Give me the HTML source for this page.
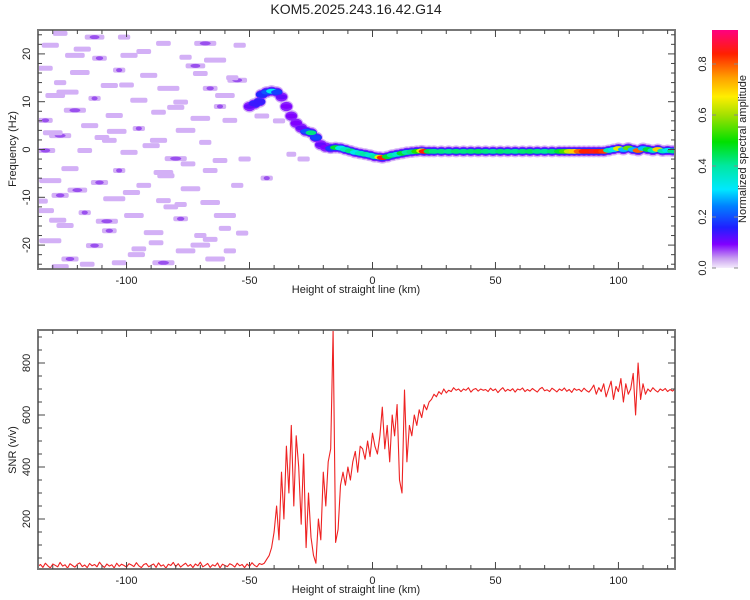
<!DOCTYPE html>
<html><head><meta charset="utf-8"><style>
body{margin:0;background:#fff;}
svg{display:block;font-family:"Liberation Sans",sans-serif;}
</style></head><body>
<svg id="fig" width="750" height="600" xmlns="http://www.w3.org/2000/svg">
<defs>
<linearGradient id="cbar" x1="0" y1="1" x2="0" y2="0">
<stop offset="0" stop-color="#f4ecfc"/><stop offset="0.04" stop-color="#c9a0f0"/><stop offset="0.1" stop-color="#8000ff"/>
<stop offset="0.17" stop-color="#2020ff"/><stop offset="0.26" stop-color="#0080ff"/><stop offset="0.33" stop-color="#00e8ff"/>
<stop offset="0.43" stop-color="#00e8a0"/><stop offset="0.53" stop-color="#00e000"/><stop offset="0.64" stop-color="#a0e000"/>
<stop offset="0.72" stop-color="#ffee00"/><stop offset="0.8" stop-color="#ffa000"/><stop offset="0.9" stop-color="#ff2000"/>
<stop offset="1" stop-color="#ff0080"/></linearGradient>
<clipPath id="c1"><rect x="38" y="30" width="637" height="239"/></clipPath>
<clipPath id="c2"><rect x="38" y="330" width="637" height="239"/></clipPath>
</defs>
<text x="356" y="14" text-anchor="middle" font-size="14" fill="#222">KOM5.2025.243.16.42.G14</text>
<g id="spec" clip-path="url(#c1)"></g>
<g id="snr" clip-path="url(#c2)"></g>
<g id="axes"></g>
<rect x="712" y="30" width="26" height="238" fill="url(#cbar)"/>
<g id="cbax"></g>
<text transform="translate(746,149) rotate(-90)" text-anchor="middle" font-size="11" fill="#222">Normalized spectral amplitude</text>
<text transform="translate(16,149) rotate(-90)" text-anchor="middle" font-size="11" fill="#222">Frequency (Hz)</text>
<text x="356" y="293" text-anchor="middle" font-size="11" fill="#222">Height of straight line (km)</text>
<text transform="translate(16,450) rotate(-90)" text-anchor="middle" font-size="11" fill="#222">SNR (v/v)</text>
<text x="356" y="593" text-anchor="middle" font-size="11" fill="#222">Height of straight line (km)</text>
</svg>
<script>
const ridgeKm=[-50,-48,-46,-45,-43,-41,-39,-37,-35,-33,-31,-29,-27,-25,-23,-21,-19,-17,-15,-13,-11,-9,-7,-5,-3,-1,1,3,4,6,8,10,12,14,16,18,20,21,23,25,28,31,34,37,40,43,46,49,52,55,58,61,64,67,70,73,76,78,80,82,84,86,88,90,92,94,96,98,100,102,104,106,108,110,112,114,116,118,120,122];
const ridgeHz=[9,9.5,10,11.5,12,12.2,12,11,9,7,5.5,4.5,3.8,3.5,2.5,1,0.5,0.3,0.4,0.3,0,-0.3,-0.6,-0.8,-1,-1.2,-1.5,-1.6,-1.7,-1.5,-1.2,-1,-0.8,-0.6,-0.5,-0.4,-0.3,-0.4,-0.4,-0.4,-0.4,-0.4,-0.4,-0.4,-0.4,-0.4,-0.4,-0.4,-0.4,-0.4,-0.4,-0.4,-0.4,-0.4,-0.4,-0.4,-0.4,-0.4,-0.4,-0.4,-0.4,-0.4,-0.4,-0.4,-0.4,-0.4,-0.2,0,0.2,0,0.3,0,-0.2,0.2,0,-0.2,0,-0.3,-0.2,-0.3];
const ridgeAmp=[0.12,0.15,0.15,0.18,0.22,0.35,0.2,0.12,0.1,0.1,0.1,0.12,0.22,0.45,0.2,0.12,0.1,0.2,0.5,0.35,0.4,0.45,0.35,0.4,0.42,0.38,0.42,0.7,0.9,0.5,0.42,0.38,0.5,0.42,0.45,0.55,0.7,0.9,0.48,0.45,0.45,0.44,0.46,0.45,0.46,0.47,0.45,0.44,0.46,0.45,0.44,0.46,0.47,0.45,0.44,0.46,0.5,0.58,0.68,0.75,0.85,0.9,0.9,0.92,0.9,0.88,0.4,0.35,0.7,0.3,0.6,0.3,0.85,0.3,0.5,0.4,0.75,0.4,0.35,0.45];
const blobKm=[-127,-113,-101,-131,-85,-68,-54,-121,-111,-99,-76,-64,-133,-119,-103,-91,-70,-55,-127,-107,-83,-66,-129,-113,-95,-78,-60,-121,-105,-87,-70,-133,-115,-95,-76,-58,-127,-107,-87,-68,-133,-117,-99,-80,-62,-123,-103,-85,-66,-131,-111,-93,-74,-55,-127,-105,-85,-66,-133,-117,-97,-78,-60,-125,-107,-89,-70,-131,-113,-95,-76,-58,-123,-103,-85,-64,-127,-45,-38,-30,-33,-28,-43,
-118,-93,-72,-57,-124,-100,-80,-62,-130,-110,-90,-75,-52,-120,-98,-82,-60,-128,-108,-88,-70,-53,-116,-96,-78,-135,-104,-84,-66];
const blobHz=[24.3,23.5,23.5,21.8,22.2,22.2,21.8,19.7,19.1,19.7,19.3,18.7,17,16.1,16.6,15.5,15.9,14.5,14,13.4,12.8,12.8,11.3,10.7,10.3,9.9,11.3,8.2,7.1,7.8,6.5,6.1,5,4.4,4,6.1,2.9,1.9,1.9,1.5,-0.2,-0.2,-0.6,-1.9,-2.3,-4,-4.4,-4.8,-4.4,-6.5,-6.9,-7.5,-8.2,-7.5,-9.6,-10.3,-10.7,-11.1,-12.8,-13.2,-13.8,-14.5,-13.8,-15.9,-17,-17.4,-18,-19.1,-20.1,-20.8,-21.2,-21.2,-22.9,-23.7,-23.7,-22.9,-24.5,7,6,5,-1,-2,-6,
21,20.5,17.5,15,12,13.5,8.8,9,3.5,2.5,0.8,-3,-2,-8.5,-9,-12,-16.5,-14.8,-15,-19.5,-20,-17.5,-24,-22,-11.5,-10.8,3.8,-5.5,-18.8];
const blobLen=[6,8,5,7,6,9,5,8,6,7,5,9,6,8,5,7,6,8,5,7,9,6,8,5,7,6,8,9,7,6,8,6,7,5,8,6,9,6,7,5,8,6,7,9,6,7,5,8,6,9,7,6,8,5,7,9,6,8,7,5,8,6,9,7,6,8,5,9,7,6,8,5,7,6,9,8,7,6,5,5,4,5,5,
7,6,8,5,9,6,7,5,8,6,7,6,5,8,7,6,5,7,9,6,8,5,6,7,5,6,8,7,6];
const blobAmp=[0.04,0.08,0.04,0.04,0.04,0.08,0.04,0.04,0.08,0.04,0.04,0.04,0.04,0.04,0.08,0.04,0.04,0.08,0.04,0.04,0.04,0.08,0.04,0.08,0.04,0.04,0.04,0.08,0.04,0.04,0.04,0.08,0.04,0.08,0.04,0.04,0.08,0.04,0.04,0.04,0.08,0.04,0.04,0.08,0.04,0.04,0.08,0.04,0.04,0.04,0.08,0.04,0.04,0.04,0.08,0.04,0.04,0.04,0.04,0.08,0.04,0.08,0.04,0.04,0.08,0.04,0.04,0.04,0.08,0.04,0.04,0.04,0.08,0.04,0.08,0.04,0.04,0.06,0.06,0.06,0.06,0.06,0.1,
0.04,0.04,0.08,0.04,0.04,0.04,0.04,0.08,0.04,0.04,0.04,0.04,0.04,0.08,0.04,0.04,0.04,0.04,0.08,0.04,0.04,0.04,0.04,0.04,0.04,0.04,0.04,0.04,0.04];
const snrStart=-136;
const snrValues=[18,25,14,30,20,12,27,22,16,33,19,24,11,28,21,15,26,31,17,23,13,29,20,25,16,34,22,14,27,19,24,12,30,18,26,21,15,28,23,17,32,20,13,25,29,16,22,27,14,31,19,24,11,26,21,33,17,28,15,23,30,18,25,13,27,20,34,16,22,29,14,24,19,31,12,26,21,17,28,23,15,30,20,25,13,27,18,32,22,16,29,
25,30,45,60,90,
150,250,120,380,200,480,300,560,250,520,400,
180,450,90,300,130,60,30,200,120,380,
250,420,470,927,110,
160,330,380,330,400,350,420,460,380,480,
470,430,500,440,530,480,450,520,630,470,
560,420,600,520,640,350,300,696,420,560,
520,600,560,620,590,640,620,650,660,680,
670,690,680,700,685,695,690,705,695,700,
690,700,695,705,688,698,702,692,700,695,
698,690,703,694,700,686,697,705,691,699,
693,701,688,700,696,704,690,698,692,702,
695,688,700,706,693,697,690,703,696,689,
700,694,704,691,698,687,702,695,699,690,
703,694,688,700,715,680,705,690,720,670,
700,730,660,710,690,740,650,720,680,700,
760,600,800,660,720,680,700,690,705,695,
688,700,694,702,690,698,692,700];
const xTicks=[-100,-50,0,50,100];
const topYTicks=[-20,-10,0,10,20];
const snrTicks=[200,400,600,800];
const cbTicks=[0.0,0.2,0.4,0.6,0.8];

const NS='http://www.w3.org/2000/svg';
const X=k=>38+(k+136)*637/259;
const YF=f=>30+(25-f)*239/50;
const YS=v=>363+(800-v)*0.26;
const YC=a=>268-a*255;
function mk(tag,attrs,parent){const e=document.createElementNS(NS,tag);for(const k in attrs)e.setAttribute(k,attrs[k]);parent.appendChild(e);return e;}
const stops=[[0,[244,236,252]],[0.04,[204,160,244]],[0.1,[128,0,255]],[0.17,[32,32,255]],[0.26,[0,128,255]],[0.33,[0,232,255]],[0.43,[0,232,160]],[0.53,[0,224,0]],[0.64,[160,224,0]],[0.72,[255,238,0]],[0.8,[255,160,0]],[0.9,[255,32,0]],[1,[255,0,128]]];
function cmap(a){for(let i=1;i<stops.length;i++){if(a<=stops[i][0]){const t=(a-stops[i-1][0])/(stops[i][0]-stops[i-1][0]);const c=stops[i-1][1].map((v,j)=>Math.round(v+(stops[i][1][j]-v)*t));return 'rgb('+c.join(',')+')';}}return 'rgb(255,0,128)';}

const spec=document.getElementById('spec');
for(let i=0;i<blobKm.length;i++){
  const w=blobLen[i]*2.46;
  const r=mk('rect',{x:X(blobKm[i])-w/2,y:YF(blobHz[i])-2.5,width:w,height:5,rx:2,fill:'#d3b0f6'},spec);
  
  
  if(blobAmp[i]>0.06){const c=mk('ellipse',{cx:X(blobKm[i]),cy:YF(blobHz[i]),rx:w/4,ry:2,fill:'#9a50ee'},spec);
  
  }
}
const layers=[[0.0,7,6,'#d3b0f6'],[0.05,6,4.6,'#8a20ff'],[0.14,6,3.6,'#2a2aff']];
for(const L of layers){
  for(let i=0;i<ridgeKm.length;i++){
    if(ridgeAmp[i]<L[0])continue;
    const e=mk('ellipse',{cx:X(ridgeKm[i]),cy:YF(ridgeHz[i]),rx:L[1],ry:L[2],fill:L[3]},spec);
    
    
  }
}
for(let i=0;i<ridgeKm.length;i++){
  const e=mk('ellipse',{cx:X(ridgeKm[i]),cy:YF(ridgeHz[i]),rx:5.5,ry:2.4,fill:cmap(ridgeAmp[i])},spec);
  
  
}

const snr=document.getElementById('snr');
const pts=snrValues.map((v,i)=>X(snrStart+i).toFixed(1)+','+YS(v).toFixed(1)).join(' ');
const pl=mk('polyline',{points:pts,fill:'none',stroke:'#ee2222','stroke-width':1.1,'stroke-linejoin':'round'},snr);



const ax=document.getElementById('axes');
function frame(y0,y1,name){
  const r=mk('rect',{x:38,y:y0,width:637,height:y1-y0,fill:'none',stroke:'#777','stroke-width':2},ax);
  
  
  for(let k=-130;k<=120;k+=10){const maj=k%50===0;const L=maj?7:4;
    mk('line',{x1:X(k),x2:X(k),y1:y1,y2:y1-L,stroke:'#444'},ax);
    mk('line',{x1:X(k),x2:X(k),y1:y0,y2:y0+L,stroke:'#444'},ax);}
  for(const k of xTicks){const t=mk('text',{x:X(k),y:y1+15,'text-anchor':'middle','font-size':11,fill:'#222'},ax);t.textContent=k;
    
    }
}
frame(30,269,'top-plot-frame');
frame(330,569,'bottom-plot-frame');
for(let f=-24;f<=24;f+=2){const maj=f%10===0;const L=maj?7:4;
  mk('line',{x1:38,x2:38+L,y1:YF(f),y2:YF(f),stroke:'#444'},ax);
  mk('line',{x1:675,x2:675-L,y1:YF(f),y2:YF(f),stroke:'#444'},ax);}
for(const f of topYTicks){const t=mk('text',{transform:`translate(30,${YF(f)}) rotate(-90)`,'text-anchor':'middle','font-size':11,fill:'#222'},ax);t.textContent=f;
  
  }
for(let v=50;v<=900;v+=50){const maj=v%200===0;const L=maj?7:4;
  mk('line',{x1:38,x2:38+L,y1:YS(v),y2:YS(v),stroke:'#444'},ax);
  mk('line',{x1:675,x2:675-L,y1:YS(v),y2:YS(v),stroke:'#444'},ax);}
for(const v of snrTicks){const t=mk('text',{transform:`translate(30,${YS(v)}) rotate(-90)`,'text-anchor':'middle','font-size':11,fill:'#222'},ax);t.textContent=v;
  
  }
const cb=document.getElementById('cbax');
for(const a of cbTicks){const t=mk('text',{transform:`translate(706,${YC(a)}) rotate(-90)`,'text-anchor':'middle','font-size':11,fill:'#222'},cb);t.textContent=a.toFixed(1);
  
  
  mk('line',{x1:712,x2:716,y1:YC(a),y2:YC(a),stroke:'#888'},cb);
  mk('line',{x1:734,x2:738,y1:YC(a),y2:YC(a),stroke:'#888'},cb);}
</script>
</body></html>
